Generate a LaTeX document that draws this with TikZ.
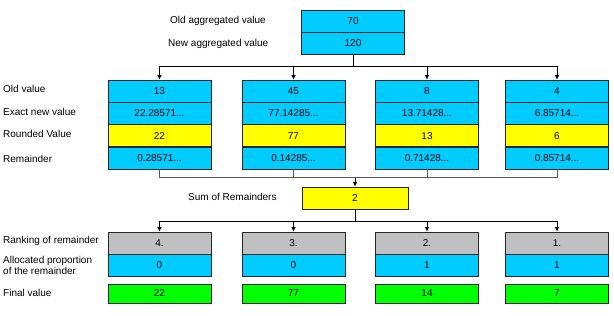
\documentclass[tikz,border=0pt]{standalone}
\usepackage{fontspec}
\setmainfont{Liberation Sans}
\usetikzlibrary{arrows.meta}
\definecolor{cellcyan}{HTML}{00CCFF}
\definecolor{cellyellow}{HTML}{FFFF00}
\definecolor{cellgray}{HTML}{C0C0C0}
\definecolor{cellgreen}{HTML}{00FF00}
\begin{document}
\begin{tikzpicture}[x=1pt,y=-1pt,
    font=\fontsize{10}{11.5}\selectfont,
    cell/.style={draw=black!85,line width=0.8pt,minimum width=103pt,minimum height=22pt,inner sep=0pt,anchor=center},
    cyancell/.style={cell,fill=cellcyan},
    yellowcell/.style={cell,fill=cellyellow},
    graycell/.style={cell,fill=cellgray},
    greencell/.style={cell,fill=cellgreen,minimum height=19pt},
    rowlabel/.style={anchor=west,inner sep=0pt},
    link/.style={line width=0.8pt,black},
    joinlink/.style={line width=0.8pt,black!65},
    arr/.style={link,-{Latex[length=4.5pt,width=4.5pt]}}]
                \useasboundingbox (0,0) rectangle (614,316);

                % aggregated values
                \draw node[rowlabel] (oldagg) at (170,21) {Old aggregated value};
                \draw node[rowlabel] (newagg) at (168,44) {New aggregated value};
                \draw node[cyancell] (agg1) at (353,21) {70};
                \draw node[cyancell] (agg2) at (353,43) {120};

                % row labels
                \draw node[rowlabel] (lold) at (3,89) {Old value};
                \draw node[rowlabel] (lexact) at (3,112) {Exact new value};
                \draw node[rowlabel] (lround) at (3,134) {Rounded Value};
                \draw node[rowlabel] (lrem) at (3,159) {Remainder};
                \draw node[rowlabel] (lsum) at (188,197) {Sum of Remainders};
                \draw node[rowlabel] (lrank) at (3,241) {Ranking of remainder};
                \draw node[rowlabel,align=left] (lalloc) at (3,265.5) {Allocated proportion\\[-1pt]of the remainder};
                \draw node[rowlabel] (lfinal) at (3,293) {Final value};

                % columns (exact values and remainders are cut off with dots)
                \foreach \c/\x/\old/\exact/\round/\rem/\rank/\alloc/\final in
                    {1/159.5/13/22.28571/22/0.28571/4./0/22,
                     2/293.5/45/77.14285/77/0.14285/3./0/77,
                     3/427/8/13.71428/13/0.71428/2./1/14,
                     4/557/4/6.85714/6/0.85714/1./1/7} {
                    \draw node[cyancell] (a\c) at (\x,91.1) {\old};
                    \draw node[cyancell] (b\c) at (\x,113.4) {\exact...};
                    \draw node[yellowcell] (r\c) at (\x,135.6) {\round};
                    \draw node[cyancell] (d\c) at (\x,157.9) {\rem...};
                    \draw node[graycell] (k\c) at (\x,243) {\rank};
                    \draw node[cyancell] (p\c) at (\x,265.5) {\alloc};
                    \draw node[greencell] (f\c) at (\x,293.5) {\final};
                }

                \draw node[yellowcell,minimum width=106pt] (sum) at (355,198) {2};

                % connectors
                \coordinate (split) at (353,66);
                \coordinate (join) at (355,177.5);
                \coordinate (spread) at (355,221);

                \draw[link] (agg2.south) -- (split);
                \foreach \c in {1,2,3,4}
                    \draw[arr] (split) -| (a\c.north);

                \foreach \c in {1,2,3,4}
                    \draw[joinlink] (d\c.south) |- (join);
                \draw[arr] (join) -- (sum.north);

                \draw[link] (sum.south) -- (spread);
                \foreach \c in {1,2,3,4}
                    \draw[arr] (spread) -| (k\c.north);
            \end{tikzpicture}
\end{document}
